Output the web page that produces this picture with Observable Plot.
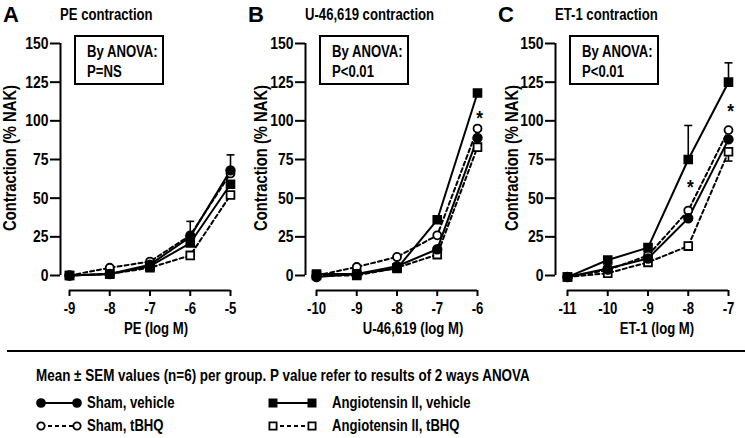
<!DOCTYPE html>
<html><head><meta charset="utf-8">
<script src="https://cdn.jsdelivr.net/npm/d3@7"></script>
<script src="https://cdn.jsdelivr.net/npm/@observablehq/plot@0.6"></script>
<style>
body{margin:0;background:#fff;}
#root{position:relative;width:745px;height:438px;overflow:hidden;color:#000;
 font-family:"Liberation Sans",Arial,sans-serif;}
.t{position:absolute;white-space:nowrap;line-height:1;font-weight:bold;}
.panel{position:absolute;top:0;}
</style></head><body><div id="root"></div>
<script>
const FONT = '"Liberation Sans",Arial,sans-serif';
const NARROW_SCALE = 0.82;

// ---------- data ----------
const seriesNames = ["Sham, vehicle", "Sham, tBHQ", "Angiotensin II, vehicle", "Angiotensin II, tBHQ"];
const yTicks = [0, 25, 50, 75, 100, 125, 150];

// A: PE
const peDose = [-9, -8, -7, -6, -5];
const peShamVehicle = [0, 1, 7, 25, 68];
const peShamTbhq = [0, 5, 9, 26, 66];
const peAngVehicle = [0, 1, 6, 21, 59];
const peAngTbhq = [0, 1, 5, 13, 52];
const peSemUpShamVehicle = [null, null, null, 10, 10];
const peStarDose = [];
const peStarValue = [];

// B: U-46,619
const uDose = [-10, -9, -8, -7, -6];
const uShamVehicle = [-1, 1, 6, 17, 89];
const uShamTbhq = [0, 5.5, 12, 26, 95];
const uAngVehicle = [1, 1, 4.5, 36, 118];
const uAngTbhq = [0, 0, 5, 13.5, 83];
const uStarDose = [-6];
const uStarValue = [102];

// C: ET-1
const etDose = [-11, -10, -9, -8, -7];
const etShamVehicle = [-1, 4.5, 11, 37, 88];
const etShamTbhq = [-1, 3.5, 13, 42, 94];
const etAngVehicle = [-1, 10, 18, 75, 125];
const etAngTbhq = [-1, 1.5, 8.5, 19, 80];
const etSemUpAngVehicle = [null, null, null, 22, 12.5];
const etSemDownAngTbhq = [null, null, null, null, 6];
const etStarDose = [-8, -7];
const etStarValue = [58, 107];

// ---------- styles ----------
const seriesStyle = {
  "Sham, vehicle": {symbol: "circle", fill: "black", dash: null, r: 4.3},
  "Sham, tBHQ": {symbol: "circle", fill: "white", dash: "4,3", r: 4},
  "Angiotensin II, vehicle": {symbol: "square", fill: "black", dash: null, r: 4.4},
  "Angiotensin II, tBHQ": {symbol: "square", fill: "white", dash: "4,3", r: 4.4}
};
const drawOrder = ["Angiotensin II, tBHQ", "Sham, tBHQ", "Angiotensin II, vehicle", "Sham, vehicle"];

const capSymbol = {draw(ctx, size) { const r = Math.sqrt(size / Math.PI); ctx.moveTo(-r, 0); ctx.lineTo(r, 0); }};

const panels = [
  {letter: "A", title: "PE contraction", xLabel: "PE (log M)", p: "P=NS", left: 0, inset: 9, mr: 20, ylx: 10, xlx: 156,
   dose: peDose, values: [peShamVehicle, peShamTbhq, peAngVehicle, peAngTbhq],
   semUp: {"Sham, vehicle": peSemUpShamVehicle}, semDown: {}, starDose: peStarDose, starValue: peStarValue},
  {letter: "B", title: "U-46,619 contraction", xLabel: "U-46,619 (log M)", p: "P<0.01", left: 245, inset: 11, mr: 18, ylx: 16, xlx: 168,
   dose: uDose, values: [uShamVehicle, uShamTbhq, uAngVehicle, uAngTbhq],
   semUp: {}, semDown: {}, starDose: uStarDose, starValue: uStarValue},
  {letter: "C", title: "ET-1 contraction", xLabel: "ET-1 (log M)", p: "P<0.01", left: 495, inset: 12, mr: 17, ylx: 17, xlx: 162,
   dose: etDose, values: [etShamVehicle, etShamTbhq, etAngVehicle, etAngTbhq],
   semUp: {"Angiotensin II, vehicle": etSemUpAngVehicle}, semDown: {"Angiotensin II, tBHQ": etSemDownAngTbhq},
   starDose: etStarDose, starValue: etStarValue}
];

const root = document.getElementById("root");
function label(text, x, y, o = {}) {
  const d = document.createElement("div");
  d.className = "t";
  d.textContent = text;
  d.style.left = x + "px";
  d.style.top = y + "px";
  d.style.fontSize = (o.size || 15) + "px";
  const sx = o.noScale ? 1 : NARROW_SCALE;
  if (o.rotate) {
    d.style.transformOrigin = "center center";
    d.style.transform = `translate(-50%,-50%) rotate(${o.rotate}deg) scaleX(${sx})`;
  } else {
    const anchor = o.anchor || "start";
    d.style.transformOrigin = anchor === "middle" ? "center center" : anchor === "end" ? "right center" : "left center";
    const ax = anchor === "middle" ? "-50%" : anchor === "end" ? "-100%" : "0";
    d.style.transform = `translate(${ax},-50%) scaleX(${sx})`;
  }
  root.appendChild(d);
  return d;
}

// horizontally condense SVG texts around their own anchor point
function condense(svg) {
  svg.querySelectorAll("text").forEach(t => {
    const tr = t.getAttribute("transform") || "";
    const x = parseFloat(t.getAttribute("x"));
    const cx = isFinite(x) ? x : 0;
    t.setAttribute("transform", `${tr} translate(${cx},0) scale(${NARROW_SCALE},1) translate(${-cx},0)`.trim());
  });
}

for (const P of panels) {
  const rows = [];
  seriesNames.forEach((s, k) => P.dose.forEach((x, i) => rows.push({series: s, x, y: P.values[k][i]})));
  const errRows = [];
  for (const [s, arr] of Object.entries(P.semUp)) arr.forEach((e, i) => { if (e != null) { const v = P.values[seriesNames.indexOf(s)][i]; errRows.push({x: P.dose[i], y: v, end: v + e}); } });
  for (const [s, arr] of Object.entries(P.semDown)) arr.forEach((e, i) => { if (e != null) { const v = P.values[seriesNames.indexOf(s)][i]; errRows.push({x: P.dose[i], y: v, end: v - e}); } });
  const stars = P.starDose.map((x, i) => ({x, y: P.starValue[i]}));

  const marks = [
    Plot.ruleX([P.dose[0]], {y1: yTicks[0], y2: yTicks[yTicks.length - 1], dx: -P.inset, strokeWidth: 2}),
    Plot.ruleY([yTicks[0]], {x1: P.dose[0], x2: P.dose[P.dose.length - 1], dy: 15, strokeWidth: 2}),
    Plot.axisY(yTicks, {tickSize: 10, tickPadding: 2, strokeWidth: 2, label: null, fontSize: 17, fontWeight: "bold"}),
    Plot.axisX(P.dose, {tickSize: 6, tickPadding: 6, strokeWidth: 2, label: null, tickFormat: d => String(d), fontSize: 16, fontWeight: "bold"})
  ];
  for (const s of drawOrder) {
    const st = seriesStyle[s];
    marks.push(Plot.line(rows.filter(d => d.series === s), {x: "x", y: "y", stroke: "black", strokeWidth: 2, strokeDasharray: st.dash}));
  }
  marks.push(Plot.ruleX(errRows, {x: "x", y1: "y", y2: "end", stroke: "black", strokeWidth: 1.6}));
  marks.push(Plot.dot(errRows, {x: "x", y: "end", symbol: capSymbol, r: 4, stroke: "black", strokeWidth: 1.6}));
  for (const s of drawOrder) {
    const st = seriesStyle[s];
    marks.push(Plot.dot(rows.filter(d => d.series === s), {x: "x", y: "y", symbol: st.symbol, r: st.r, fill: st.fill, stroke: "black", strokeWidth: 1.8}));
  }
  marks.push(Plot.text(stars, {x: "x", y: "y", text: () => "*", fontSize: 21, fontWeight: "bold", dx: 2, dy: 1}));

  const svg = Plot.plot({
    width: 250, height: 345,
    marginLeft: 60, marginRight: P.mr, marginTop: 43, marginBottom: 55,
    insetLeft: P.inset, insetBottom: 15,
    x: {domain: [P.dose[0], P.dose[P.dose.length - 1]]},
    y: {domain: [yTicks[0], yTicks[yTicks.length - 1]]},
    style: {fontFamily: FONT, fontSize: "16px", color: "black", background: "transparent", overflow: "visible"},
    marks
  });
  condense(svg);
  const wrap = document.createElement("div");
  wrap.className = "panel";
  wrap.style.left = P.left + "px";
  wrap.appendChild(svg);
  root.appendChild(wrap);

  label(P.letter, P.left + 3, 15, {size: 22, noScale: true});
  label(P.title, P.left + 60, 15, {size: 16});
  const box = document.createElement("div");
  Object.assign(box.style, {position: "absolute", left: (P.left + 74) + "px", top: "35px", width: "90px", height: "50px", border: "2px solid black", boxSizing: "border-box"});
  root.appendChild(box);
  label("By ANOVA:", P.left + 87, 52, {size: 16});
  label(P.p, P.left + 87, 72, {size: 16});
  label("Contraction (% NAK)", P.left + P.ylx, 158, {size: 18, rotate: -90});
  label(P.xLabel, P.left + P.xlx, 329, {size: 16, anchor: "middle"});
}

// separator
const sep = document.createElement("div");
Object.assign(sep.style, {position: "absolute", left: "7px", top: "349.5px", width: "738px", height: "2.5px", background: "black"});
root.appendChild(sep);

label("Mean \u00b1 SEM values (n=6) per group. P value refer to results of 2 ways ANOVA", 36, 375, {size: 16.4});

// legend
const legendPos = [
  {x1: 41, x2: 77, tx: 87, y: 403},
  {x1: 41, x2: 77, tx: 87, y: 426},
  {x1: 273, x2: 312, tx: 332, y: 403},
  {x1: 273, x2: 312, tx: 332, y: 426}
];
seriesNames.forEach((s, i) => {
  const st = seriesStyle[s];
  const L = legendPos[i];
  const w = L.x2 - L.x1 + 12;
  const svg = d3.create("svg").attr("width", w).attr("height", 14)
    .style("position", "absolute").style("left", (L.x1 - 6) + "px").style("top", (L.y - 7) + "px");
  svg.append("line").attr("x1", 6).attr("x2", w - 6).attr("y1", 7).attr("y2", 7)
    .attr("stroke", "black").attr("stroke-width", 2).attr("stroke-dasharray", st.dash);
  const sym = d3.symbol(st.symbol === "circle" ? d3.symbolCircle : d3.symbolSquare, Math.PI * st.r * st.r * 0.85);
  [6, w - 6].forEach(cx => svg.append("path").attr("d", sym()).attr("transform", `translate(${cx},7)`)
    .attr("fill", st.fill).attr("stroke", "black").attr("stroke-width", 1.8));
  root.appendChild(svg.node());
  label(s, L.tx, L.y, {size: 16});
});
</script></body></html>
